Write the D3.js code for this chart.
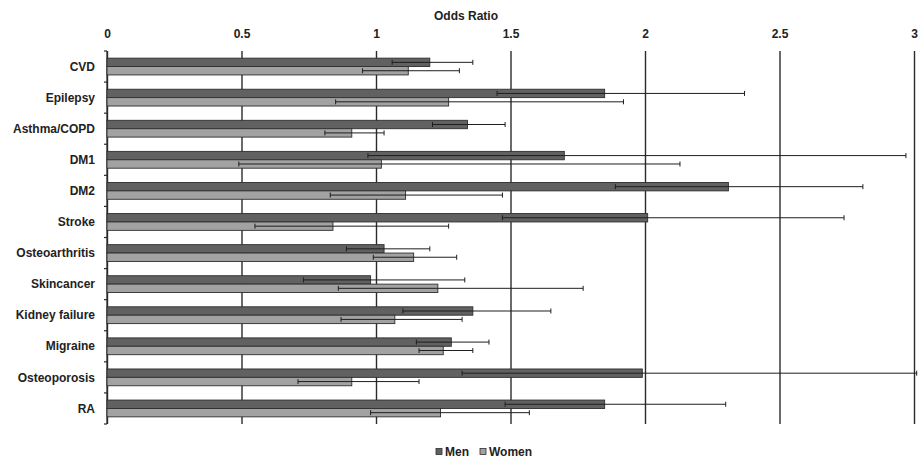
<!DOCTYPE html>
<html>
<head>
<meta charset="utf-8">
<script src="https://cdn.jsdelivr.net/npm/d3@7"></script>
<style>
  body { margin: 0; background: #fff; }
  text { font-family: "Liberation Sans", Arial, sans-serif; font-weight: bold; font-size: 12px; fill: #222; }
</style>
</head>
<body>
<script>
"use strict";

// Data

const categories = ["CVD", "Epilepsy", "Asthma/COPD", "DM1", "DM2", "Stroke",
    "Osteoarthritis", "Skincancer", "Kidney failure", "Migraine", "Osteoporosis", "RA"];

const menOR    = [1.20, 1.85, 1.34, 1.70, 2.31, 2.01, 1.03, 0.98, 1.36, 1.28, 1.99, 1.85];
const menLow   = [1.06, 1.45, 1.21, 0.97, 1.89, 1.47, 0.89, 0.73, 1.10, 1.15, 1.32, 1.48];
const menHigh  = [1.36, 2.37, 1.48, 2.97, 2.81, 2.74, 1.20, 1.33, 1.65, 1.42, 3.01, 2.30];

const womenOR   = [1.12, 1.27, 0.91, 1.02, 1.11, 0.84, 1.14, 1.23, 1.07, 1.25, 0.91, 1.24];
const womenLow  = [0.95, 0.85, 0.81, 0.49, 0.83, 0.55, 0.99, 0.86, 0.87, 1.16, 0.71, 0.98];
const womenHigh = [1.31, 1.92, 1.03, 2.13, 1.47, 1.27, 1.30, 1.77, 1.32, 1.36, 1.16, 1.57];

const series = ["Men", "Women"];
const xTicks = [0, 0.5, 1, 1.5, 2, 2.5, 3];

// Size parameters

const width = 918;
const height = 458;
const margin = { top: 51, right: 4, bottom: 34, left: 107 };
const innerW = 914 - margin.left;
const innerH = height - margin.top - margin.bottom;

const colors = { Men: "#616161", Women: "#a2a2a2" };

const rows = categories.map((c, i) => ({
    name: c,
    values: [
        { key: "Men", or: menOR[i], lo: menLow[i], hi: menHigh[i] },
        { key: "Women", or: womenOR[i], lo: womenLow[i], hi: womenHigh[i] }
    ]
}));

const svg = d3.select("body")
    .append("svg")
    .attr("width", width)
    .attr("height", height);

const g = svg.append("g")
    .attr("transform", `translate(${margin.left},${margin.top})`);

// Scales

const x = d3.scaleLinear().domain([0, 3]).range([0, innerW]);
const y = d3.scaleBand().domain(categories).range([0, innerH]);
const barH = 8.4;
const y1 = d3.scaleBand().domain(series).range([0, 2 * barH]);

// Gridlines + tick labels (top axis)

const gridAxis = g.append("g")
    .call(d3.axisTop(x).tickValues(xTicks).tickFormat(d3.format("")).tickSize(-innerH));

gridAxis.select(".domain").remove();
gridAxis.selectAll(".tick line")
    .attr("stroke", "#2b2b2b")
    .attr("stroke-width", 1.4)
    .attr("y1", 0)
    .attr("y2", innerH);
gridAxis.selectAll(".tick text")
    .attr("y", -13)
    .attr("dy", null)
    .style("font-size", "12px")
    .style("font-family", "Liberation Sans, Arial, sans-serif")
    .style("font-weight", "bold")
    .attr("fill", "#222");

// Axis title

svg.append("text")
    .attr("x", 466)
    .attr("y", 20)
    .attr("text-anchor", "middle")
    .text("Odds Ratio");

// Left axis: line with ticks at category boundaries

const leftAxis = g.append("g");
leftAxis.append("line")
    .attr("x1", 0).attr("x2", 0)
    .attr("y1", 0).attr("y2", innerH)
    .attr("stroke", "#2b2b2b")
    .attr("stroke-width", 1.2);

const bounds = categories.map(c => y(c)).concat([innerH]);
leftAxis.selectAll(".bound")
    .data(bounds)
    .enter()
    .append("line")
    .attr("x1", -3).attr("x2", 0)
    .attr("y1", d => d).attr("y2", d => d)
    .attr("stroke", "#2b2b2b")
    .attr("stroke-width", 1.2);

leftAxis.selectAll(".cat")
    .data(categories)
    .enter()
    .append("text")
    .attr("x", -12)
    .attr("y", d => y(d) + y.bandwidth() / 2)
    .attr("dy", "0.35em")
    .attr("text-anchor", "end")
    .text(d => d);

// Bars

const groups = g.selectAll(".row")
    .data(rows)
    .enter()
    .append("g")
    .attr("transform", d => `translate(0,${y(d.name) + (y.bandwidth() - 2 * barH) / 2})`);

groups.selectAll("rect")
    .data(d => d.values)
    .enter()
    .append("rect")
    .attr("x", x(0))
    .attr("y", d => y1(d.key))
    .attr("width", d => x(d.or) - x(0))
    .attr("height", y1.bandwidth())
    .attr("fill", d => colors[d.key])
    .attr("stroke", "#2e2e2e")
    .attr("stroke-width", 0.9);

// Error bars

const errs = groups.selectAll(".err")
    .data(d => d.values)
    .enter()
    .append("g")
    .attr("stroke", "#1e1e1e")
    .attr("stroke-width", 1);

errs.append("line")
    .attr("x1", d => x(d.lo))
    .attr("x2", d => x(d.hi))
    .attr("y1", d => y1(d.key) + y1.bandwidth() / 2)
    .attr("y2", d => y1(d.key) + y1.bandwidth() / 2);

errs.append("line")
    .attr("x1", d => x(d.lo)).attr("x2", d => x(d.lo))
    .attr("y1", d => y1(d.key) + y1.bandwidth() / 2 - 2.5)
    .attr("y2", d => y1(d.key) + y1.bandwidth() / 2 + 2.5);

errs.append("line")
    .attr("x1", d => x(d.hi)).attr("x2", d => x(d.hi))
    .attr("y1", d => y1(d.key) + y1.bandwidth() / 2 - 2.5)
    .attr("y2", d => y1(d.key) + y1.bandwidth() / 2 + 2.5);

// Legend

const legend = svg.append("g")
    .attr("transform", "translate(436,448)");

const legendX = [0, 44];
series.forEach((s, i) => {
    legend.append("rect")
        .attr("x", legendX[i])
        .attr("y", 0.5)
        .attr("width", 6)
        .attr("height", 6)
        .attr("fill", colors[s])
        .attr("stroke", "#2e2e2e")
        .attr("stroke-width", 0.8);
    legend.append("text")
        .attr("x", legendX[i] + 9)
        .attr("y", 8)
        .text(s);
});
</script>
</body>
</html>
